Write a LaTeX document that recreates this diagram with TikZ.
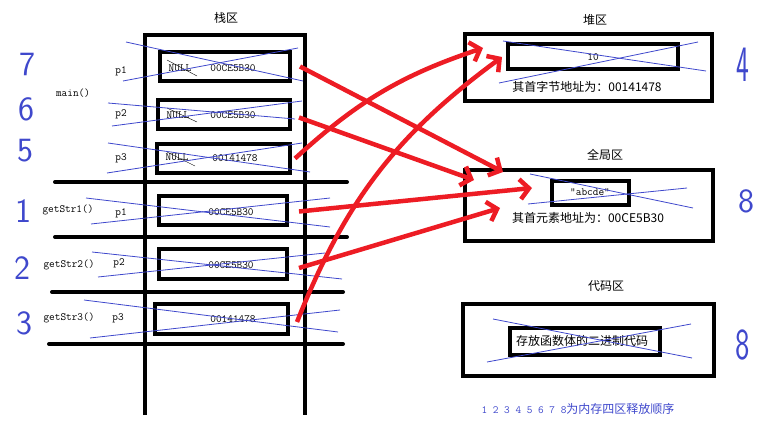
\documentclass[tikz,border=0pt]{standalone}
\usepackage{fontspec}
\usepackage{graphicx}
\usetikzlibrary{arrows.meta}
\newfontfamily\cjk{Noto Sans CJK SC}
\definecolor{penblue}{RGB}{63,72,204}
\definecolor{penred}{RGB}{237,28,36}

\begin{document}
\begin{tikzpicture}[x=1pt,y=-1pt,
    cell/.style={draw,line width=4pt,inner sep=0pt},
    txt/.style={font=\fontsize{11}{12}\ttfamily,inner sep=0pt},
    zh/.style={font=\fontsize{12}{14}\cjk,inner sep=0pt},
    cross/.style={penblue,line width=0.8pt},
    order/.style={penblue,font=\fontsize{34}{34}\sffamily,inner sep=0pt},
    ptr/.style={penred,line width=4.5pt,-{Straight Barb[length=9pt,width=20pt]}}]
    \useasboundingbox (0,0) rectangle (778,430);

    % stack
    \node[zh](stack) at (226,18){栈区};
    \draw[line width=4pt] (145,415)--(145,35)--(305,35)--(305,415);
    \draw[line width=4pt,line cap=round] (55,182)--(347,182);
    \draw[line width=4pt,line cap=round] (55,237)--(347,237);
    \draw[line width=4pt,line cap=round] (52,292)--(343,292);
    \draw[line width=4pt,line cap=round] (49,344)--(343,344);

    \node[cell,minimum width=130,minimum height=29](mp1) at (225,66.5){};
    \node[cell,minimum width=132,minimum height=29](mp2) at (224,114.5){};
    \node[cell,minimum width=133,minimum height=29](mp3) at (223.5,158.5){};
    \node[cell,minimum width=128,minimum height=29](gs1) at (223,210.5){};
    \node[cell,minimum width=128,minimum height=30](gs2) at (223,264){};
    \node[cell,minimum width=133,minimum height=30](gs3) at (221.5,319){};

    \node[txt](main) at (73,93){main()};
    \node[txt](lp1) at (121,71){p1};
    \node[txt](lp2) at (121,114){p2};
    \node[txt](lp3) at (121,158){p3};
    \node[txt](f1) at (68,210){getStr1()};
    \node[txt](lq1) at (121,213){p1};
    \node[txt](f2) at (69,265){getStr2()};
    \node[txt](lq2) at (119,263){p2};
    \node[txt](f3) at (69,318){getStr3()};
    \node[txt](lq3) at (118,318){p3};

    \node[txt](n1) at (180,68){NULL};
    \node[txt](v1) at (233,68){00CE5B30};
    \node[txt](n2) at (178,115){NULL};
    \node[txt](v2) at (233,115){00CE5B30};
    \node[txt](n3) at (177,157){NULL};
    \node[txt](v3) at (235,158){00141478};
    \node[txt](w1) at (231,212){00CE5B30};
    \node[txt](w2) at (231,265){00CE5B30};
    \node[txt](w3) at (233,319){00141478};
    \draw (167,60)--(197,76);
    \draw (167,108)--(197,122);
    \draw (167,152)--(195,166);

    \draw[cross] (126,42)--(303,81);
    \draw[cross] (123,81)--(298,48);
    \draw[cross] (108,103)--(295,119);
    \draw[cross] (112,126)--(302,101);
    \draw[cross] (108,143)--(310,172);
    \draw[cross] (107,173)--(302,143);
    \draw[cross] (86,198)--(330,227);
    \draw[cross] (91,224)--(330,198);
    \draw[cross] (92,252)--(342,279);
    \draw[cross] (98,277)--(325,253);
    \draw[cross] (84,300)--(338,332);
    \draw[cross] (90,338)--(340,310);

    % heap
    \node[zh](heap) at (595,20){堆区};
    \draw[line width=4.5pt] (465,34) rectangle (712,101);
    \node[cell,minimum width=170,minimum height=25](hbox) at (593,56.5){};
    \node[txt](ten) at (593,57){10};
    \node[zh](haddr) at (587,87){其首字节地址为：00141478};
    \draw[cross] (503,41)--(706,71);
    \draw[cross] (499,83)--(698,42);

    % global
    \node[zh](glob) at (605,155){全局区};
    \draw[line width=4.5pt] (465,170) rectangle (713,241);
    \node[cell,minimum width=77,minimum height=24](gbox) at (590.5,193){};
    \node[txt](abc) at (590,192){“abcde”};
    \node[zh](gaddr) at (588,218){其首元素地址为：00CE5B30};
    \draw[cross] (530,174)--(693,208);
    \draw[cross] (528,204)--(687,188);

    % code
    \node[zh](code) at (606,286){代码区};
    \draw[line width=4.5pt] (463,304) rectangle (714,376);
    \node[cell,minimum width=150,minimum height=27](cbox) at (585,341.5){};
    \node[zh](ctext) at (582,341){存放函数体的二进制代码};
    \draw[cross] (493,319)--(692,358);
    \draw[cross] (487,362)--(691,324);

    % release order
    \node[order](o7) at (27,64){7};
    \node[order](o6) at (26,109){6};
    \node[order](o5) at (25,151){5};
    \node[order](o1) at (23,211){1};
    \node[order](o2) at (22,268){2};
    \node[order](o3) at (24,323){3};
    \node[order](o4) at (743,65){\scalebox{0.8}[1.5]{4}};
    \node[order](o8a) at (746,201){8};
    \node[order](o8b) at (743,345){\scalebox{0.9}[1.3]{8}};
    \node[penblue,inner sep=0pt](note) at (578,409){{\fontsize{11}{12}\ttfamily 1 2 3 4 5 6 7 8}{\fontsize{12}{14}\cjk 为内存四区释放顺序}};

    % pointers
    \coordinate(h1) at (483,48);
    \coordinate(h2) at (502,57);
    \coordinate(g1) at (503,172);
    \coordinate(g2) at (474,180);
    \coordinate(g3) at (532,188);
    \coordinate(g4) at (500,208);
    \draw[ptr] ([xshift=8pt]mp1.east)--(g1);
    \draw[ptr] ([xshift=7pt,yshift=-3pt]mp2.east)--(g2);
    \draw[ptr] ([xshift=3pt]mp3.east) to[bend left=12] (h1);
    \draw[ptr] ([xshift=10pt,yshift=-1pt]gs1.east)--(g3);
    \draw[ptr] ([xshift=10pt,yshift=-4pt]gs2.east)--(g4);
    \draw[ptr] ([xshift=7pt,yshift=-3pt]gs3.east) to[bend left=16] (h2);
  \end{tikzpicture}
\end{document}
